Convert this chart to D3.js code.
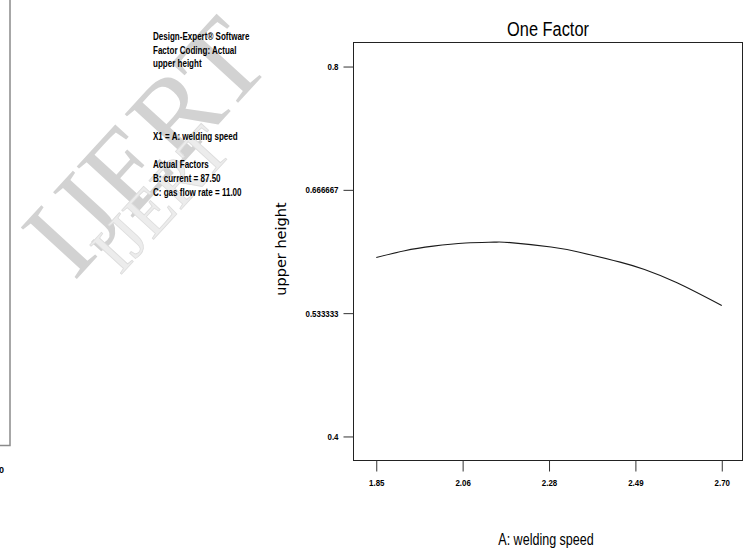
<!DOCTYPE html>
<html><head><meta charset="utf-8">
<script src="https://cdn.jsdelivr.net/npm/d3@7"></script>
<style>body{margin:0;background:#fff}svg{display:block}</style>
</head><body>
<svg id="chart" width="744" height="550"></svg>
<script>
// ---- data ----
const speed = [1.85, 1.92, 1.99, 2.07, 2.14, 2.18, 2.28, 2.35, 2.45, 2.51, 2.59, 2.70];
const upperHeight = [0.5935, 0.6009, 0.6058, 0.6092, 0.6101, 0.6096, 0.6049, 0.5992, 0.5885, 0.5805, 0.5662, 0.5416];
const xTicks = [1.85, 2.0625, 2.275, 2.4875, 2.70];
const xTickLabels = ["1.85", "2.06", "2.28", "2.49", "2.70"];
const yTicks = [0.4, 0.533333, 0.666667, 0.8];
const yTickLabels = ["0.4", "0.533333", "0.666667", "0.8"];
const headerLines = ["Design-Expert\u00AE Software", "Factor Coding: Actual", "upper height"];
const factorLine = "X1 = A: welding speed";
const actualLines = ["Actual Factors", "B: current = 87.50", "C: gas flow rate = 11.00"];
const title = "One Factor";
const xTitle = "A: welding speed";
const yTitle = "upper height";
const watermark = "IJERT";

// ---- layout ----
const svg = d3.select("#chart");
const plot = {left: 353.5, right: 742.5, top: 42.5, bottom: 460.5};
const x = d3.scaleLinear().domain([1.794, 2.751]).range([plot.left, plot.right]);
const y = d3.scaleLinear().domain([0.374, 0.826]).range([plot.bottom, plot.top]);
const narrow = "'Liberation Sans', Arial, sans-serif";

// watermark
const wm = svg.append("g").attr("font-family", "'Liberation Serif', 'DejaVu Serif', serif");
wm.append("text").text(watermark)
  .attr("transform", "translate(74,282) rotate(-47.5)")
  .attr("font-size", 116).attr("fill", "#d2d2d2");
wm.append("text").text(watermark)
  .attr("transform", "translate(120,276) rotate(-47.5)")
  .attr("font-size", 66).attr("fill", "#ececec").attr("stroke", "#dcdcdc").attr("stroke-width", 0.8);

// leftover left panel
svg.append("path").attr("d", "M10,0V445.5H0").attr("fill", "none").attr("stroke", "#8a8a8a").attr("stroke-width", 1.5);
svg.append("text").text("0").attr("x", 4).attr("y", 473).attr("text-anchor", "end")
  .attr("font-family", narrow).attr("font-weight", "bold").attr("font-size", 9);

// helper for condensed text
function narrowText(g, str, tx, ty, size, sx, anchor, weight) {
  return g.append("text").text(str)
    .attr("transform", `translate(${tx},${ty}) scale(${sx},1)`)
    .attr("text-anchor", anchor || "start")
    .attr("font-family", narrow)
    .attr("font-weight", weight || "bold")
    .attr("font-size", size).attr("fill", "#000");
}

// info block
const info = svg.append("g");
headerLines.forEach((s, i) => narrowText(info, s, 153, 40 + i * 13.5, 11, 0.73));
narrowText(info, factorLine, 153, 140, 11, 0.73);
actualLines.forEach((s, i) => narrowText(info, s, 153, 168 + i * 14, 11, 0.73));

// frame
svg.append("rect").attr("x", plot.left).attr("y", plot.top)
  .attr("width", plot.right - plot.left).attr("height", plot.bottom - plot.top)
  .attr("fill", "none").attr("stroke", "#222").attr("stroke-width", 1);

// y axis
const yAxis = d3.axisLeft(y).tickValues(yTicks).tickSize(10).tickPadding(5)
  .tickFormat((d, i) => yTickLabels[i]);
const gy = svg.append("g").attr("transform", `translate(${plot.left},0)`).call(yAxis);
gy.select(".domain").remove();
gy.selectAll(".tick line").attr("stroke", "#333");
gy.selectAll(".tick text").attr("font-family", narrow).attr("font-weight", "bold")
  .attr("font-size", 9).attr("fill", "#000")
  .each(function() {
    const t = d3.select(this);
    const xx = +t.attr("x");
    t.attr("x", null).attr("transform", `translate(${xx},0) scale(0.88,1)`);
  });

// x axis
const xAxis = d3.axisBottom(x).tickValues(xTicks).tickSize(11).tickPadding(8)
  .tickFormat((d, i) => xTickLabels[i]);
const gx = svg.append("g").attr("transform", `translate(0,${plot.bottom})`).call(xAxis);
gx.select(".domain").remove();
gx.selectAll(".tick line").attr("stroke", "#333");
gx.selectAll(".tick text").attr("font-family", narrow).attr("font-weight", "bold")
  .attr("font-size", 9).attr("fill", "#000")
  .each(function() {
    const t = d3.select(this);
    const yy = +t.attr("y");
    t.attr("y", null).attr("transform", `translate(0,${yy}) scale(0.88,1)`);
  });

// curve
const line = d3.line().x((d, i) => x(speed[i])).y(d => y(d)).curve(d3.curveNatural);
svg.append("path").datum(upperHeight).attr("d", line)
  .attr("fill", "none").attr("stroke", "#1a1a1a").attr("stroke-width", 1.1);

// titles
narrowText(svg, title, (plot.left + plot.right) / 2, 36, 21, 0.78, "middle", "normal");
narrowText(svg, xTitle, 546, 545, 16.5, 0.76, "middle", "normal");
svg.append("text").text(yTitle)
  .attr("transform", `translate(286,249) rotate(-90)`)
  .attr("text-anchor", "middle")
  .attr("font-family", "'DejaVu Sans', Verdana, sans-serif")
  .attr("font-size", 14.5).attr("fill", "#000");
</script>
</body></html>
